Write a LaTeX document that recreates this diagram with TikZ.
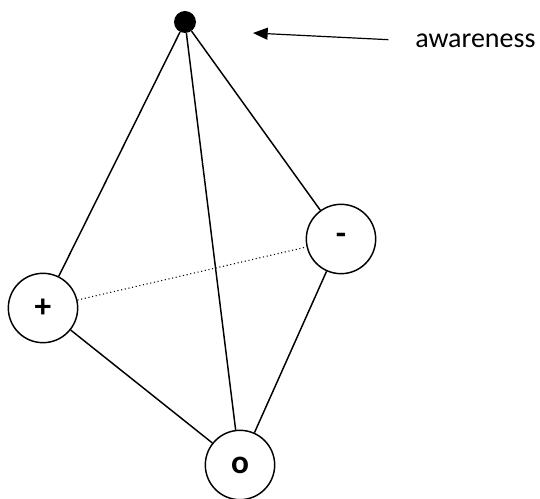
\documentclass[tikz,border=0pt]{standalone}
\usepackage{fontspec}
\setmainfont{Carlito}
\usetikzlibrary{arrows.meta}

\begin{document}
\begin{tikzpicture}[
          x=0.75pt, y=-0.75pt,
          pole/.style={draw, circle, line width=1.1pt, fill=white,
                       minimum size=52pt, inner sep=0pt, font=\fontsize{25}{28}\selectfont\bfseries},
          apex/.style={circle, fill=black, minimum size=16.5pt, inner sep=0pt},
          edge/.style={line width=1.1pt},
          arr/.style={-{Triangle[length=11pt, width=9pt]}, line width=0.9pt}
        ]
        \useasboundingbox (0,0) rectangle (540,499);
        \node[apex] (top) at (185,22) {};
        \node[pole] (pos) at (43,308) {+};
        \node[pole] (neg) at (341,239) {-};
        \node[pole] (neu) at (240,465) {o};
        \draw[dotted, line width=0.8pt] (pos) -- (neg);
        \foreach \x/\y in {top/pos, top/neg, top/neu, pos/neu, neg/neu}
          \draw[edge] (\x)--(\y);
        \node[anchor=west, inner sep=0pt, font=\fontsize{21}{24}\selectfont] (aw) at (415,41) {awareness};
        \coordinate (tip) at (253,33);
        \draw[arr, shorten <=20pt] (aw.west) -- (tip);
      \end{tikzpicture}
\end{document}
